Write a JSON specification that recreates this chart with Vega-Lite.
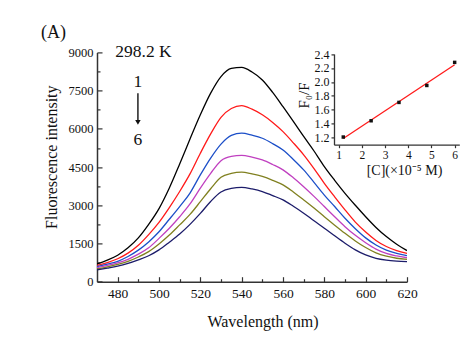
{
  "$schema": "https://vega.github.io/schema/vega-lite/v6.json",
  "width": 310,
  "height": 229.3,
  "autosize": {"type": "none"},
  "padding": {"left": 97, "top": 52.4, "right": 66, "bottom": 58.3},
  "background": "white",
  "config": {
    "view": {"stroke": null},
    "font": "Liberation Serif",
    "axis": {"grid": false, "domainColor": "#333333", "tickColor": "#333333", "labelColor": "#111111", "titleColor": "#111111", "labelFont": "Liberation Serif", "titleFont": "Liberation Serif", "titleFontWeight": "normal", "domainWidth": 1.5, "tickWidth": 1.2, "labelOverlap": false, "labelFlush": false}
  },
  "datasets": {
    "spectra": [
      {"wl": 470, "c1": 700, "c2": 640, "c3": 590, "c4": 550, "c5": 500, "c6": 460},
      {"wl": 475, "c1": 850, "c2": 750, "c3": 690, "c4": 640, "c5": 580, "c6": 530},
      {"wl": 480, "c1": 1040, "c2": 900, "c3": 800, "c4": 740, "c5": 680, "c6": 610},
      {"wl": 485, "c1": 1330, "c2": 1120, "c3": 990, "c4": 880, "c5": 800, "c6": 720},
      {"wl": 490, "c1": 1720, "c2": 1430, "c3": 1240, "c4": 1080, "c5": 970, "c6": 860},
      {"wl": 495, "c1": 2250, "c2": 1850, "c3": 1560, "c4": 1330, "c5": 1180, "c6": 1020},
      {"wl": 500, "c1": 2870, "c2": 2330, "c3": 1960, "c4": 1700, "c5": 1480, "c6": 1250},
      {"wl": 505, "c1": 3680, "c2": 2910, "c3": 2450, "c4": 2100, "c5": 1830, "c6": 1550},
      {"wl": 510, "c1": 4620, "c2": 3540, "c3": 2950, "c4": 2550, "c5": 2230, "c6": 1870},
      {"wl": 515, "c1": 5600, "c2": 4230, "c3": 3480, "c4": 3050, "c5": 2640, "c6": 2250},
      {"wl": 520, "c1": 6550, "c2": 5040, "c3": 4190, "c4": 3670, "c5": 3140, "c6": 2680},
      {"wl": 525, "c1": 7400, "c2": 5800, "c3": 4850, "c4": 4250, "c5": 3650, "c6": 3150},
      {"wl": 530, "c1": 8050, "c2": 6450, "c3": 5400, "c4": 4750, "c5": 4100, "c6": 3520},
      {"wl": 535, "c1": 8370, "c2": 6800, "c3": 5740, "c4": 4920, "c5": 4250, "c6": 3660},
      {"wl": 540, "c1": 8410, "c2": 6910, "c3": 5830, "c4": 4960, "c5": 4300, "c6": 3700},
      {"wl": 545, "c1": 8230, "c2": 6770, "c3": 5750, "c4": 4890, "c5": 4230, "c6": 3640},
      {"wl": 550, "c1": 7920, "c2": 6550, "c3": 5630, "c4": 4780, "c5": 4130, "c6": 3540},
      {"wl": 555, "c1": 7430, "c2": 6250, "c3": 5420, "c4": 4600, "c5": 3980, "c6": 3380},
      {"wl": 560, "c1": 6870, "c2": 5890, "c3": 5170, "c4": 4390, "c5": 3800, "c6": 3210},
      {"wl": 565, "c1": 6290, "c2": 5450, "c3": 4800, "c4": 4080, "c5": 3520, "c6": 2960},
      {"wl": 570, "c1": 5700, "c2": 4980, "c3": 4390, "c4": 3730, "c5": 3210, "c6": 2690},
      {"wl": 575, "c1": 5130, "c2": 4440, "c3": 3900, "c4": 3350, "c5": 2890, "c6": 2390},
      {"wl": 580, "c1": 4520, "c2": 3860, "c3": 3400, "c4": 2950, "c5": 2550, "c6": 2100},
      {"wl": 585, "c1": 3980, "c2": 3330, "c3": 2950, "c4": 2550, "c5": 2220, "c6": 1800},
      {"wl": 590, "c1": 3470, "c2": 2820, "c3": 2490, "c4": 2160, "c5": 1900, "c6": 1510},
      {"wl": 595, "c1": 3000, "c2": 2340, "c3": 2080, "c4": 1820, "c5": 1600, "c6": 1250},
      {"wl": 600, "c1": 2550, "c2": 1950, "c3": 1720, "c4": 1530, "c5": 1340, "c6": 1050},
      {"wl": 605, "c1": 2130, "c2": 1620, "c3": 1440, "c4": 1280, "c5": 1130, "c6": 920},
      {"wl": 610, "c1": 1770, "c2": 1380, "c3": 1240, "c4": 1110, "c5": 1000, "c6": 850},
      {"wl": 615, "c1": 1470, "c2": 1220, "c3": 1110, "c4": 1010, "c5": 920, "c6": 810},
      {"wl": 620, "c1": 1220, "c2": 1110, "c3": 1020, "c4": 940, "c5": 880, "c6": 785}
    ],
    "labels": [
      {"wl": 448.95, "I": 9550, "text": "(A)", "size": 18},
      {"wl": 492.5, "I": 8836, "text": "298.2 K", "size": 17.5},
      {"wl": 489.8, "I": 7658, "text": "1", "size": 17.5},
      {"wl": 489.8, "I": 5368, "text": "6", "size": 17.5}
    ],
    "arrow": [{"wl": 489.8, "I": 7400, "I2": 6350}],
    "head": [{"wl": 489.8, "I": 6250}],
    "ratio": [
      {"c": 1.2, "r": 1.21},
      {"c": 2.4, "r": 1.443},
      {"c": 3.6, "r": 1.706},
      {"c": 4.8, "r": 1.949},
      {"c": 6.0, "r": 2.28}
    ],
    "fit": [
      {"c": 1.2, "r": 1.189},
      {"c": 6.0, "r": 2.247}
    ]
  },
  "layer": [
    {
      "resolve": {"axis": {"x": "independent", "y": "independent"}},
      "layer": [
        {
          "data": {"name": "spectra"},
          "transform": [{"fold": ["c1", "c2", "c3", "c4", "c5", "c6"], "as": ["series", "I"]}],
          "mark": {"type": "line", "strokeWidth": 1.3, "clip": true, "interpolate": "monotone"},
          "encoding": {
            "x": {"field": "wl", "type": "quantitative", "scale": {"domain": [470, 620], "nice": false, "zero": false},
              "axis": {"orient": "bottom", "values": [480, 500, 520, 540, 560, 580, 600, 620], "format": "d", "tickSize": -5, "labelPadding": 10, "labelFont": "Liberation Serif", "labelFontSize": 13.5, "labelOverlap": false, "labelFlush": false, "title": "Wavelength (nm)", "titleFont": "Liberation Serif", "titleFontSize": 16, "titleX": 165.5, "titleY": 44.5, "titleBaseline": "alphabetic"}},
            "y": {"field": "I", "type": "quantitative", "scale": {"domain": [0, 9000], "nice": false},
              "axis": {"orient": "left", "values": [0, 1500, 3000, 4500, 6000, 7500, 9000], "format": "d", "tickSize": -5, "labelPadding": 9, "labelFont": "Liberation Serif", "labelFontSize": 12.5, "labelOverlap": false, "labelFlush": false, "title": "Fluorescence intensity", "titleFont": "Liberation Serif", "titleFontSize": 16, "titleX": -41, "titleY": 104.3, "titleBaseline": "alphabetic"}},
            "color": {"field": "series", "type": "nominal", "legend": null,
              "scale": {"domain": ["c1", "c2", "c3", "c4", "c5", "c6"], "range": ["#000000", "#ff1a1a", "#1c4fc8", "#c040c0", "#808020", "#1c1c6a"]}}
          }
        },
        {
          "data": {"name": "labels"},
          "mark": {"type": "text", "font": "Liberation Serif", "baseline": "alphabetic", "align": "center", "color": "#111111", "clip": false},
          "encoding": {
            "x": {"field": "wl", "type": "quantitative", "scale": {"domain": [470, 620], "nice": false, "zero": false},
              "axis": {"orient": "bottom", "values": [490, 510, 530, 550, 570, 590, 610], "tickSize": -3, "labels": false, "domain": false, "title": null}},
            "y": {"field": "I", "type": "quantitative", "scale": {"domain": [0, 9000], "nice": false},
              "axis": {"orient": "left", "values": [750, 2250, 3750, 5250, 6750, 8250], "tickSize": -3, "labels": false, "domain": false, "title": null}},
            "text": {"field": "text"},
            "size": {"field": "size", "type": "quantitative", "scale": null}
          }
        },
        {
          "data": {"name": "arrow"},
          "mark": {"type": "rule", "strokeWidth": 1.4, "color": "#111111"},
          "encoding": {
            "x": {"field": "wl", "type": "quantitative", "scale": {"domain": [470, 620], "nice": false, "zero": false}, "axis": null},
            "y": {"field": "I", "type": "quantitative", "scale": {"domain": [0, 9000], "nice": false}, "axis": null},
            "y2": {"field": "I2"}
          }
        },
        {
          "data": {"name": "head"},
          "mark": {"type": "point", "shape": "triangle-down", "filled": true, "size": 30, "color": "#111111", "opacity": 1},
          "encoding": {
            "x": {"field": "wl", "type": "quantitative", "scale": {"domain": [470, 620], "nice": false, "zero": false}, "axis": null},
            "y": {"field": "I", "type": "quantitative", "scale": {"domain": [0, 9000], "nice": false}, "axis": null}
          }
        }
      ]
    },
    {
      "resolve": {"axis": {"x": "independent", "y": "independent"}},
      "layer": [
        {
          "data": {"name": "fit"},
          "mark": {"type": "line", "color": "#ff1a1a", "strokeWidth": 1.3},
          "encoding": {
            "x": {"field": "c", "type": "quantitative", "scale": {"domain": [0.8, 6.2], "range": [237, 362.3], "nice": false, "zero": false},
              "axis": {"orient": "bottom", "offset": -137, "values": [1, 2, 3, 4, 5, 6], "format": "d", "tickSize": 3, "labelPadding": 2, "labelFont": "Liberation Serif", "labelFontSize": 11.5, "labelOverlap": false, "labelFlush": false, "domainWidth": 1.3, "title": "[C](×10⁻⁵ M)", "titleFont": "Liberation Serif", "titleFontSize": 14, "titleX": 307, "titleY": 30, "titleBaseline": "alphabetic"}},
            "y": {"field": "r", "type": "quantitative", "scale": {"domain": [1.1, 2.4], "range": [92.3, 1.6], "nice": false, "zero": false},
              "axis": {"orient": "left", "offset": -237, "values": [1.2, 1.4, 1.6, 1.8, 2.0, 2.2, 2.4], "format": ".1f", "tickSize": 3, "labelPadding": 2, "labelFont": "Liberation Serif", "labelFontSize": 12, "labelOverlap": false, "labelFlush": false, "domainWidth": 1.3, "title": "F₀/F", "titleFont": "Liberation Serif", "titleFontSize": 15, "titleX": -26, "titleY": 42.6, "titleBaseline": "alphabetic"}}
          }
        },
        {
          "data": {"name": "ratio"},
          "mark": {"type": "square", "size": 12, "color": "#111111", "opacity": 1},
          "encoding": {
            "x": {"field": "c", "type": "quantitative", "axis": null},
            "y": {"field": "r", "type": "quantitative", "axis": null}
          }
        }
      ]
    }
  ],
  "resolve": {"scale": {"x": "independent", "y": "independent"}}
}
